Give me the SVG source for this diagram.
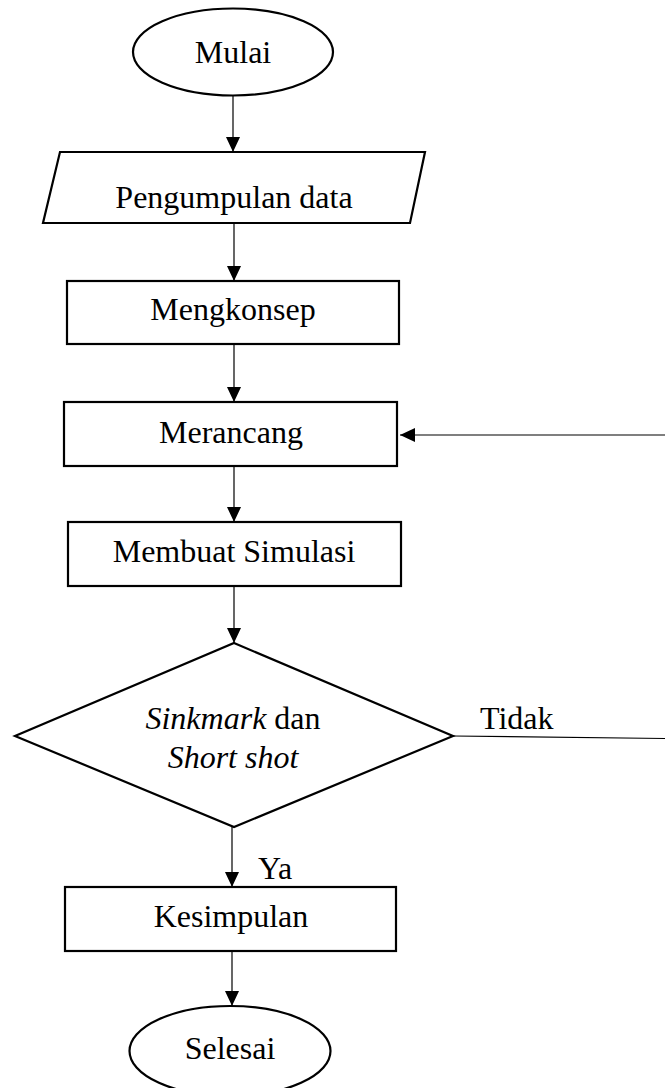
<svg xmlns="http://www.w3.org/2000/svg" width="665" height="1088" viewBox="0 0 665 1088">
  <style>
    .shape { fill: #ffffff; stroke: #000000; stroke-width: 2.2; }
    .edge { fill: none; stroke: #000000; stroke-width: 1.2; }
    .label { font-family: "Liberation Serif", "Times New Roman", serif; font-size: 32px; fill: #000000; }
    .mid { text-anchor: middle; }
    .it { font-style: italic; }
  </style>
  <defs>
    <marker id="arrow" viewBox="0 0 15 14" refX="15" refY="7" markerWidth="15" markerHeight="14" orient="auto" markerUnits="userSpaceOnUse">
      <path d="M0,0 L15,7 L0,14 z" fill="#000000"/>
    </marker>
  </defs>
  <rect width="665" height="1088" fill="#ffffff"/>

  <g id="connectors">
    <line class="edge" x1="233" y1="95" x2="233" y2="152" marker-end="url(#arrow)"/>
    <line class="edge" x1="234" y1="223" x2="234" y2="281" marker-end="url(#arrow)"/>
    <line class="edge" x1="234" y1="344" x2="234" y2="402" marker-end="url(#arrow)"/>
    <line class="edge" x1="234" y1="466" x2="234" y2="522" marker-end="url(#arrow)"/>
    <line class="edge" x1="234" y1="586" x2="234" y2="643" marker-end="url(#arrow)"/>
    <line class="edge" x1="232" y1="827" x2="232" y2="887" marker-end="url(#arrow)"/>
    <line class="edge" x1="232" y1="951" x2="232" y2="1006" marker-end="url(#arrow)"/>
    <!-- "Tidak" branch leaving the decision and the return into Merancang -->
    <line class="edge" x1="453" y1="736" x2="665" y2="738.5"/>
    <line class="edge" x1="665" y1="435" x2="400" y2="435" marker-end="url(#arrow)"/>
    <text class="label" x="480" y="729">Tidak</text>
    <text class="label" x="258" y="879">Ya</text>
  </g>

  <g id="mulai">
    <ellipse class="shape" cx="233" cy="52" rx="100" ry="43.5"/>
    <text class="label mid" x="233" y="63">Mulai</text>
  </g>

  <g id="pengumpulan-data">
    <polygon class="shape" points="60,152 425,152 410,223 43,223"/>
    <text class="label mid" x="234" y="208">Pengumpulan data</text>
  </g>

  <g id="mengkonsep">
    <rect class="shape" x="67" y="281" width="332" height="63"/>
    <text class="label mid" x="233" y="320">Mengkonsep</text>
  </g>

  <g id="merancang">
    <rect class="shape" x="64" y="402" width="333" height="64"/>
    <text class="label mid" x="231" y="443">Merancang</text>
  </g>

  <g id="membuat-simulasi">
    <rect class="shape" x="68" y="522" width="333" height="64"/>
    <text class="label mid" x="234" y="562">Membuat Simulasi</text>
  </g>

  <g id="keputusan">
    <polygon class="shape" points="234,643 453,736 234,827 15,736"/>
    <text class="label mid" x="233" y="729"><tspan class="it">Sinkmark</tspan> dan</text>
    <text class="label mid it" x="233" y="768">Short shot</text>
  </g>

  <g id="kesimpulan">
    <rect class="shape" x="65" y="887" width="331" height="64"/>
    <text class="label mid" x="231" y="927">Kesimpulan</text>
  </g>

  <g id="selesai">
    <ellipse class="shape" cx="230" cy="1051" rx="100.5" ry="45"/>
    <text class="label mid" x="230" y="1059">Selesai</text>
  </g>
</svg>
